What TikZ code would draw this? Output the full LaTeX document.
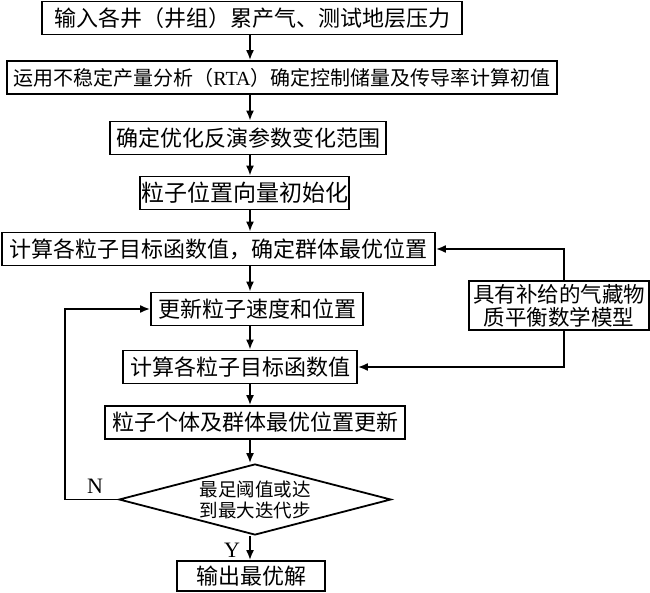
\documentclass[tikz,border=0pt]{standalone}
\usepackage{fontspec}
\setmainfont{Liberation Serif}
\newfontfamily\cjk{Noto Sans CJK SC}
\usepackage{tikz}
\usetikzlibrary{shapes,arrows,arrows.meta}
\usetikzlibrary{positioning}

\begin{document}
\begin{tikzpicture}[x=1pt,y=-1pt,line width=1.8pt,
  every node/.style={inner sep=0pt,align=center},
  stepbox/.style={draw,minimum height=33pt,font=\cjk\fontsize{22}{26}\selectfont},
  testbox/.style={draw,diamond,aspect=3.8,minimum width=272pt,minimum height=71pt,
    font=\cjk\fontsize{18.5}{21}\selectfont},
  >={Latex[length=10pt,width=8pt]}]

  \useasboundingbox (0,0) rectangle (650,593);
  \coordinate (col) at (250,0);

  % main column
  \node[stepbox,minimum width=420pt] (input) at (252,18) {输入各井（井组）累产气、测试地层压力};
  \node[stepbox,minimum width=550pt,font=\cjk\fontsize{20}{24}\selectfont] (rta) at (282,77.5)
    {运用不稳定产量分析（{\rmfamily RTA}）确定控制储量及传导率计算初值};
  \node[stepbox,minimum width=276pt] (range) at (248,138) {确定优化反演参数变化范围};
  \node[stepbox,minimum width=209pt,font=\cjk\fontsize{23}{26}\selectfont] (init) at (244.5,193) {粒子位置向量初始化};
  \node[stepbox,minimum width=433pt] (gbest) at (218.5,249) {计算各粒子目标函数值，确定群体最优位置};
  \node[stepbox,minimum width=212pt] (move) at (257,309) {更新粒子速度和位置};
  \node[stepbox,minimum width=234pt] (fit) at (240,367) {计算各粒子目标函数值};
  \node[stepbox,minimum width=300pt] (update) at (255,422.5) {粒子个体及群体最优位置更新};
  \node[testbox] (stop) at (255,499.5) {最足阈值或达\\到最大迭代步};
  \node[stepbox,minimum width=148pt,minimum height=30pt] (best) at (251,576) {输出最优解};

  % model
  \node[stepbox,minimum width=180pt,minimum height=49pt,font=\cjk\fontsize{21.5}{23}\selectfont]
    (model) at (559,305.5) {具有补给的气藏物\\质平衡数学模型};

  % flow
  \draw[->] (input.south -| col) -- (rta.north -| col);
  \draw[->] (rta.south -| col) -- (range.north -| col);
  \draw[->] (range.south -| col) -- (init.north -| col);
  \draw[->] (init.south -| col) -- (gbest.north -| col);
  \draw[->] (gbest.south -| col) -- (move.north -| col);
  \draw[->] (move.south -| col) -- (fit.north -| col);
  \draw[->] (fit.south -| col) -- (update.north -| col);
  \draw[->] (update.south -| col) -- (stop.north -| col);
  \draw[->] (stop.south -| col) -- (best.north -| col);

  % model feeds
  \draw[->] ([xshift=5pt]model.north) |- (gbest.east);
  \draw[->] ([xshift=5pt]model.south) |- (fit.east);

  % loop back
  \draw[->] (stop.west) -- ++(-53,0) coordinate (back) |- (move.west);
  \node[font=\fontsize{22}{22}\selectfont] (no) at (95,486) {N};
  \node[font=\fontsize{22}{22}\selectfont] (yes) at (232,550) {Y};

\end{tikzpicture}
\end{document}
